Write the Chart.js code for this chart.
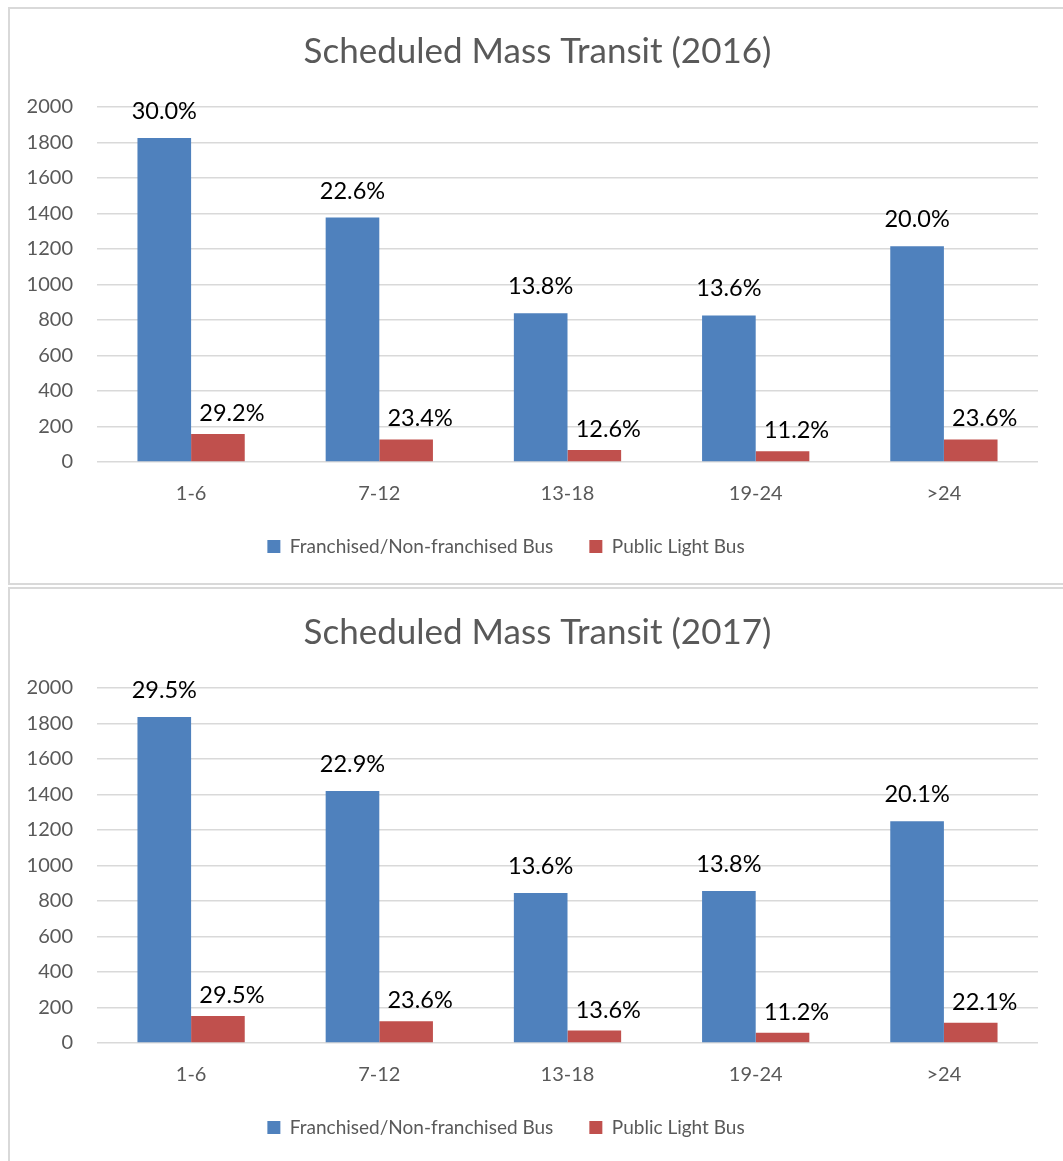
<!DOCTYPE html>
<html>
<head>
<meta charset="utf-8">
<script src="https://cdn.jsdelivr.net/npm/chart.js@4.4.0/dist/chart.umd.min.js"></script>
<style>
  html, body { margin: 0; padding: 0; background: #ffffff; }
  body { width: 1063px; height: 1161px; position: relative; overflow: hidden; }
  .box { position: absolute; left: 8px; width: 1100px; border: 2px solid #d9d9d9; box-sizing: border-box; background: #fff; }
  #box1 { top: 7px; height: 578px; }
  #box2 { top: 587px; height: 620px; }
  canvas { position: absolute; left: 0; }
  #c1 { top: 0px; }
  #c2 { top: 581px; }
</style>
</head>
<body>
<div class="box" id="box1"></div>
<div class="box" id="box2"></div>
<canvas id="c1" width="1063" height="610"></canvas>
<canvas id="c2" width="1063" height="610"></canvas>
<script>
// ---- data ----
const categories = ['1-6', '7-12', '13-18', '19-24', '>24'];
const seriesNames = ['Franchised/Non-franchised Bus', 'Public Light Bus'];

const bus2016 = [1825, 1377, 838, 826, 1216];
const plb2016 = [158, 127, 68, 61, 127];
const busPct2016 = ['30.0%', '22.6%', '13.8%', '13.6%', '20.0%'];
const plbPct2016 = ['29.2%', '23.4%', '12.6%', '11.2%', '23.6%'];

const bus2017 = [1837, 1420, 845, 856, 1250];
const plb2017 = [152, 122, 70, 58, 114];
const busPct2017 = ['29.5%', '22.9%', '13.6%', '13.8%', '20.1%'];
const plbPct2017 = ['29.5%', '23.6%', '13.6%', '11.2%', '22.1%'];

const yMin = 0, yMax = 2000, yStep = 200;

// ---- style ----
const FONT = 'Lato, "Open Sans", sans-serif';
const BLUE = '#4F81BD';
const RED = '#C0504D';
const GREY_TEXT = '#595959';
const GRID = '#d9d9d9';

// draws the percentage labels above each bar
const pctLabelPlugin = {
  id: 'pctLabels',
  afterDatasetsDraw(chart) {
    const ctx = chart.ctx;
    ctx.save();
    ctx.font = '23.5px ' + FONT;
    ctx.fillStyle = '#000000';
    ctx.textAlign = 'center';
    ctx.textBaseline = 'alphabetic';
    chart.data.datasets.forEach((ds, i) => {
      const meta = chart.getDatasetMeta(i);
      const dx = i === 0 ? 0 : 14;
      const dy = i === 0 ? 19 : 13;
      meta.data.forEach((bar, j) => {
        ctx.fillText(ds.pctLabels[j], bar.x + dx, bar.y - dy);
      });
    });
    ctx.restore();
  }
};

// re-centre title / legend like the spreadsheet layout
const boxShiftPlugin = {
  id: 'boxShift',
  afterLayout(chart) {
    const t = chart.titleBlock;
    if (t) { t.left = 9; t.right = 1066; }
    const l = chart.legend;
    if (l) { l.left = -26; l.right = 1038; }
  }
};

function makeChart(id, title, bus, plb, busPct, plbPct) {
  return new Chart(document.getElementById(id), {
    type: 'bar',
    data: {
      labels: categories,
      datasets: [
        { label: seriesNames[0], data: bus, backgroundColor: BLUE, pctLabels: busPct,
          borderWidth: 0, categoryPercentage: 0.57, barPercentage: 1.0 },
        { label: seriesNames[1], data: plb, backgroundColor: RED, pctLabels: plbPct,
          borderWidth: 0, categoryPercentage: 0.57, barPercentage: 1.0 }
      ]
    },
    options: {
      responsive: false,
      animation: false,
      events: [],
      layout: { padding: { left: 0, right: 25, top: 0, bottom: 44 } },
      plugins: {
        title: {
          display: true,
          text: title,
          color: GREY_TEXT,
          font: { family: FONT, size: 35, weight: 'normal' },
          padding: { top: 31, bottom: 34 }
        },
        legend: {
          display: true,
          position: 'bottom',
          labels: {
            color: GREY_TEXT,
            font: { family: FONT, size: 19 },
            boxWidth: 13,
            boxHeight: 13,
            padding: 36
          }
        },
        tooltip: { enabled: false }
      },
      scales: {
        x: {
          grid: { display: false, drawTicks: false },
          border: { display: false },
          ticks: { color: GREY_TEXT, font: { family: FONT, size: 20 }, padding: 20 },
          afterFit(s) { s.height = 39; }
        },
        y: {
          min: yMin, max: yMax,
          grid: { color: GRID, lineWidth: 1.5, drawTicks: false },
          border: { display: false },
          ticks: { stepSize: yStep, color: GREY_TEXT, font: { family: FONT, size: 20 }, padding: 24,
                   callback: (v) => String(v) },
          afterFit(s) { s.width = 97; }
        }
      }
    },
    plugins: [pctLabelPlugin, boxShiftPlugin]
  });
}

makeChart('c1', 'Scheduled Mass Transit (2016)', bus2016, plb2016, busPct2016, plbPct2016);
makeChart('c2', 'Scheduled Mass Transit (2017)', bus2017, plb2017, busPct2017, plbPct2017);
</script>
</body>
</html>
